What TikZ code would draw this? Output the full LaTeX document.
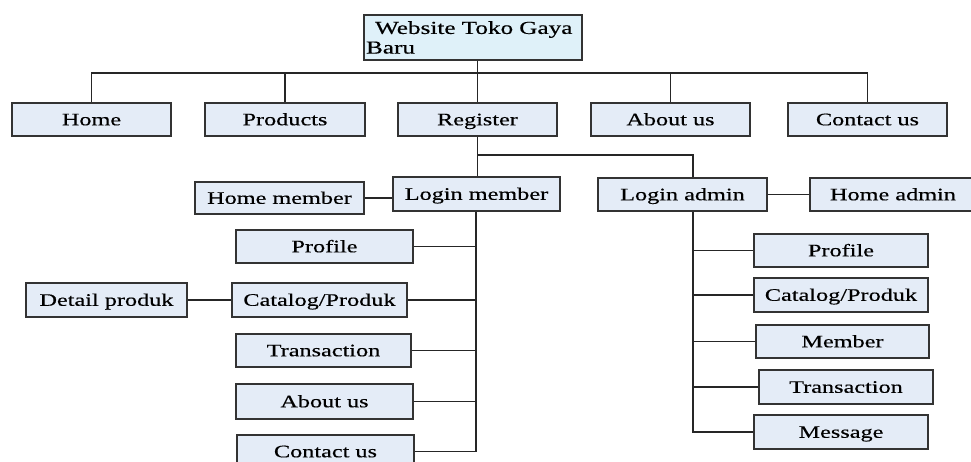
\documentclass[tikz,border=0pt]{standalone}
\usepackage{fontspec}
\newfontfamily\boxfont[FakeStretch=1.38,FakeBold=0.4]{Liberation Serif}
\usepackage{tikz}
\usetikzlibrary{positioning}
\usepackage{xcolor}
\definecolor{boxfill}{HTML}{E4ECF7}
\definecolor{rootfill}{HTML}{DFF1F9}

\tikzset{
  box/.style={draw=black!80, line width=1pt, fill=boxfill, minimum height=0.66cm,
    inner sep=0pt, text height=0.76em, text depth=0.1em,
    font=\boxfont\fontsize{10}{11.5}\selectfont},
  link/.style={black!85, line width=0.9pt}
}

\begin{document}
\begin{tikzpicture}[x=0.02cm,y=-0.02cm]
\useasboundingbox (0,0) rectangle (971,462);
\clip (0,0) rectangle (971,462);

%top level
\node[box] (root) at (473,37.5) [fill=rootfill, minimum width=4.36cm, minimum height=0.9cm,
  text height=, text depth=, text width=4.28cm, align=left, inner sep=0.04cm,
  font=\boxfont\fontsize{10.4}{11.2}\selectfont]{\hspace{0.18cm}Website Toko Gaya\\Baru};
\node[box] (home) at (91.5,119.5) [minimum width=3.18cm]{Home};
\node[box] (products) at (285,119.5) [minimum width=3.2cm]{Products};
\node[box] (register) at (477.5,119.5) [minimum width=3.18cm]{Register};
\node[box] (about) at (670.5,119.5) [minimum width=3.18cm]{About us};
\node[box] (contact) at (867.5,119.5) [minimum width=3.18cm]{Contact us};

%login
\node[box] (loginmember) at (476.5,194) [minimum width=3.34cm, minimum height=0.68cm]{Login member};
\node[box] (homemember) at (279.5,198) [minimum width=3.38cm, minimum height=0.64cm]{Home member};
\node[box] (loginadmin) at (682.5,194.5) [minimum width=3.38cm]{Login admin};
\node[box] (homeadmin) at (893,194.5) [minimum width=3.32cm]{Home admin};

%member menu
\node[box] (mprofile) at (324.5,246.5) [minimum width=3.54cm]{Profile};
\node[box] (mcatalog) at (319.5,300) [minimum width=3.5cm, minimum height=0.68cm]{Catalog/Produk};
\node[box] (detail) at (106.5,300) [minimum width=3.22cm, minimum height=0.68cm]{Detail produk};
\node[box] (mtrans) at (323.5,350.5) [minimum width=3.5cm]{Transaction};
\node[box] (mabout) at (324.5,401.5) [minimum width=3.54cm, minimum height=0.7cm]{About us};
\node[box] (mcontact) at (325.5,451.5) [minimum width=3.54cm]{Contact us};

%admin menu
\node[box] (aprofile) at (841,250.5) [minimum width=3.48cm]{Profile};
\node[box] (acatalog) at (841,295) [minimum width=3.48cm, minimum height=0.68cm]{Catalog/Produk};
\node[box] (amember) at (842.5,341.5) [minimum width=3.46cm]{Member};
\node[box] (atrans) at (846,387) [minimum width=3.48cm, minimum height=0.68cm]{Transaction};
\node[box] (amessage) at (841,432) [minimum width=3.48cm, minimum height=0.68cm]{Message};

\coordinate (bus) at (476,73);
\coordinate (split) at (693,155);
\coordinate (mtrunk) at (476,0);

%connectors
\draw[link] (register.north |- root.south) -- (register.north);
\draw[link] (home.north) |- (contact.north |- bus) -- (contact.north);
\draw[link] (products.north) -- (products.north |- bus);
\draw[link] (about.north) -- (about.north |- bus);
\draw[link] (register.south) -- (register.south |- loginmember.north);
\draw[link] (register.south |- split) -- (split) -- (split |- loginadmin.north);
\draw[link] (homemember.east) -- (homemember.east -| loginmember.west);
\draw[link] (loginadmin.east) -- (homeadmin.west);
\draw[link] (detail.east) -- (mcatalog.west);

\draw[link] (mtrunk |- loginmember.south) -- (mtrunk |- mcontact.east) -- (mcontact.east);
\draw[link] (mprofile.east) -- (mprofile.east -| mtrunk);
\draw[link] (mcatalog.east) -- (mcatalog.east -| mtrunk);
\draw[link] (mtrans.east) -- (mtrans.east -| mtrunk);
\draw[link] (mabout.east) -- (mabout.east -| mtrunk);

\draw[link] (split |- loginadmin.south) -- (split |- amessage.west) -- (amessage.west);
\draw[link] (aprofile.west) -- (aprofile.west -| split);
\draw[link] (acatalog.west) -- (acatalog.west -| split);
\draw[link] (amember.west) -- (amember.west -| split);
\draw[link] (atrans.west) -- (atrans.west -| split);
\end{tikzpicture}
\end{document}
